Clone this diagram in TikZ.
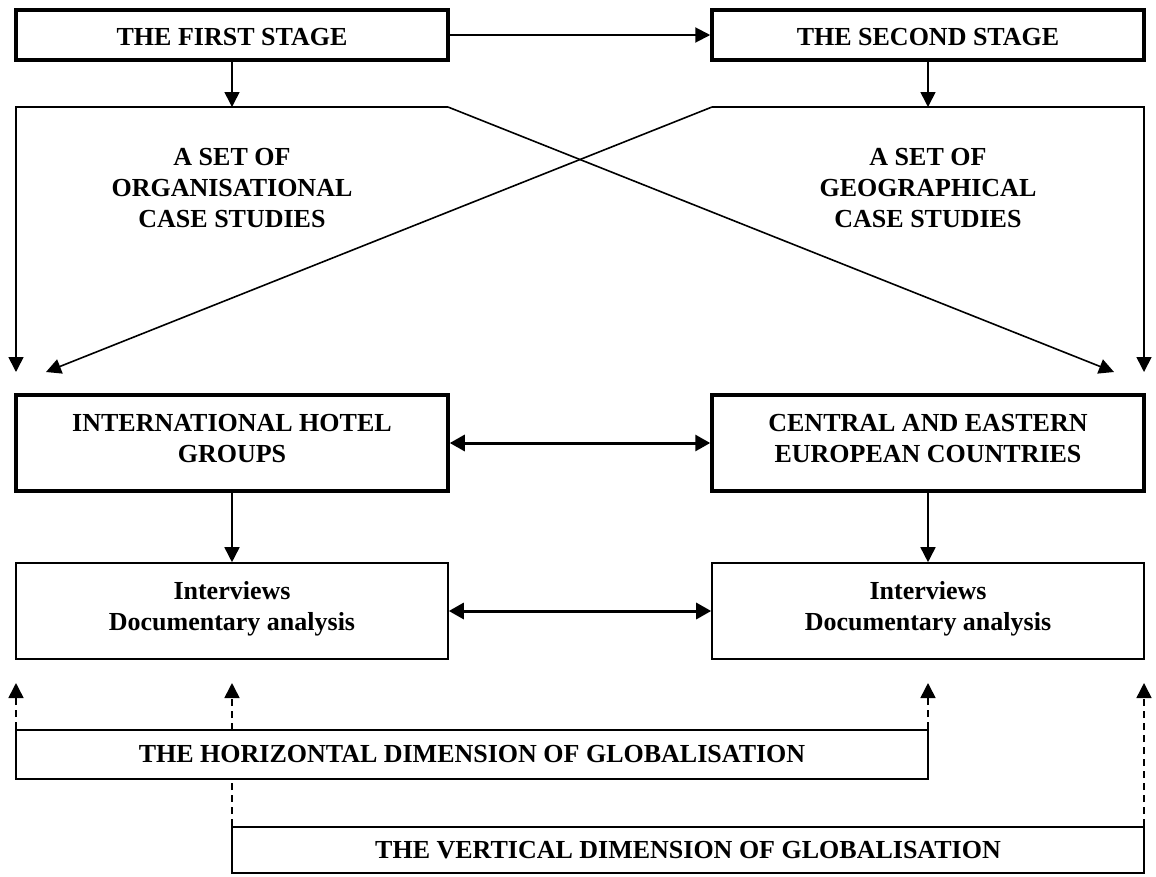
\documentclass[tikz,border=0pt]{standalone}
\usepackage{fontspec}
\setmainfont{Liberation Serif}
\usetikzlibrary{arrows.meta,backgrounds}
\begin{document}
\begin{tikzpicture}[x=1pt,y=-1pt,
  txt/.style={font=\fontsize{26}{31}\selectfont\bfseries, align=center, inner sep=0pt},
  thickbox/.style={txt, draw, line width=3.5pt, minimum width=432pt},
  thinbox/.style={txt, draw, line width=1.6pt, fill=white},
  conn/.style={line width=1.6pt, -{Triangle[length=15pt,width=15pt]}},
  dblconn/.style={line width=3pt, {Triangle[length=15pt,width=16pt]}-{Triangle[length=15pt,width=16pt]}},
  dashconn/.style={conn, dash pattern=on 7pt off 5pt}
]
\useasboundingbox (0,0) rectangle (1156,876);

% boxes
\node[thickbox, minimum height=50pt, text height=22pt] (first) at (232,35) {THE FIRST STAGE};
\node[thickbox, minimum height=50pt, text height=22pt] (second) at (928,35) {THE SECOND STAGE};
\node[thickbox, minimum height=96pt, text depth=10pt] (ihg) at (232,443) {INTERNATIONAL HOTEL\\GROUPS};
\node[thickbox, minimum height=96pt, text depth=10pt] (ceec) at (928,443) {CENTRAL AND EASTERN\\EUROPEAN COUNTRIES};
\node[thinbox, minimum width=432pt, minimum height=96pt, text depth=10pt] (int1) at (232,611) {Interviews\\Documentary analysis};
\node[thinbox, minimum width=432pt, minimum height=96pt, text depth=10pt] (int2) at (928,611) {Interviews\\Documentary analysis};
\node[thinbox, minimum width=912pt, minimum height=49pt] (hor) at (472,754.5) {THE HORIZONTAL DIMENSION OF GLOBALISATION};
\node[thinbox, minimum width=912pt, minimum height=46pt] (ver) at (688,850) {THE VERTICAL DIMENSION OF GLOBALISATION};

% case study labels
\node[txt] (org) at (232,188) {A SET OF\\ORGANISATIONAL\\CASE STUDIES};
\node[txt] (geo) at (928,188) {A SET OF\\GEOGRAPHICAL\\CASE STUDIES};

% corner coordinates of the open frames
\coordinate (ltl) at (16,107);
\coordinate (lmid) at (232,107);
\coordinate (ltr) at (448,107);
\coordinate (rtl) at (712,107);
\coordinate (rmid) at (928,107);
\coordinate (rtr) at (1144,107);
\coordinate (ldown) at (16,372);
\coordinate (ldiag) at (46,372);
\coordinate (rdiag) at (1114,372);
\coordinate (rdown) at (1144,372);

% dashed arrow tips
\coordinate (u1) at (16,683);
\coordinate (u2) at (232,683);
\coordinate (u3) at (928,683);
\coordinate (u4) at (1144,683);

% connectors
\draw[conn, line width=2pt] (first) -- (second);
\draw[conn] (first.south) -- (lmid);
\draw[conn] (second.south) -- (rmid);
\draw[conn] (ltr) -- (ltl) -- (ldown);
\draw[conn] (ltr) -- (rdiag);
\draw[conn] (rtl) -- (rtr) -- (rdown);
\draw[conn] (rtl) -- (ldiag);
\draw[dblconn] (ihg) -- (ceec);
\draw[dblconn] (int1) -- (int2);
\draw[conn] (ihg) -- (int1);
\draw[conn] (ceec) -- (int2);

\draw[dashconn] (u1 |- hor.north) -- (u1);
\draw[dashconn] (u3 |- hor.north) -- (u3);
\draw[dashconn] (u4 |- ver.north) -- (u4);
\begin{scope}[on background layer]
\draw[dashconn] (u2 |- ver.north) -- (u2);
\end{scope}
\end{tikzpicture}
\end{document}
